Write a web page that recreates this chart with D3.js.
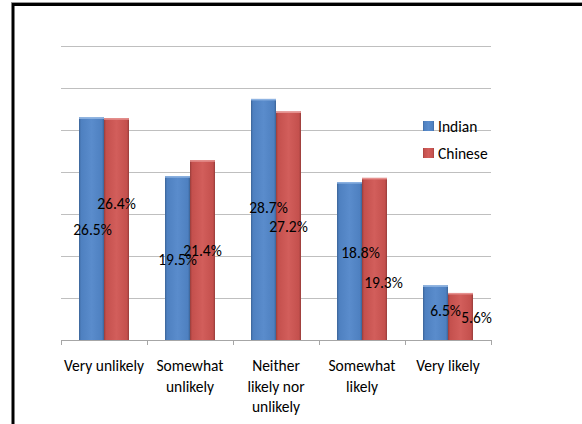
<!DOCTYPE html>
<html>
<head>
<meta charset="utf-8">
<script src="https://cdn.jsdelivr.net/npm/d3@7/dist/d3.min.js"></script>
<style>
  html, body { margin: 0; padding: 0; background: #fff; }
  svg { display: block; }
  text { font-family: Carlito, Lato, "Open Sans", sans-serif; fill: #000; }
</style>
</head>
<body>
<svg id="chart" width="582" height="424"></svg>
<script>
// ---- data ----
const categories = ["Very unlikely", "Somewhat unlikely", "Neither likely nor unlikely", "Somewhat likely", "Very likely"];
const categoryLines = [["Very unlikely"], ["Somewhat", "unlikely"], ["Neither", "likely nor", "unlikely"], ["Somewhat", "likely"], ["Very likely"]];
const seriesNames = ["Indian", "Chinese"];
const indian = [26.5, 19.5, 28.7, 18.8, 6.5];
const chinese = [26.4, 21.4, 27.2, 19.3, 5.6];
const yTicks = [0, 5, 10, 15, 20, 25, 30, 35];

// ---- label placement (layout, as in source: [dx px, y in data units]) ----
const indianLabelPos = [[1, 13.1], [0, 9.6], [5, 15.8], [11, 10.4], [10, 3.5]];
const chineseLabelPos = [[0, 16.2], [0, 10.6], [0, 13.5], [9, 6.9], [16, 2.7]];

(function () {
const svg = d3.select("#chart");
const FS = 15.5;

// border
svg.append("rect").attr("x", 0).attr("y", 0).attr("width", 582).attr("height", 424).attr("fill", "#fff");
svg.append("line").attr("x1", 11).attr("x2", 582).attr("y1", 2.5).attr("y2", 2.5).attr("stroke", "#999").attr("stroke-width", 1);
svg.append("path").attr("d", "M13,424 V4.5 H582").attr("fill", "none").attr("stroke", "#000").attr("stroke-width", 3);

// gradients
const defs = svg.append("defs");
function grad(id, dark, mid, light) {
  const g = defs.append("linearGradient").attr("id", id).attr("x1", 0).attr("x2", 1).attr("y1", 0).attr("y2", 0);
  g.append("stop").attr("offset", "0%").attr("stop-color", dark);
  g.append("stop").attr("offset", "8%").attr("stop-color", mid);
  g.append("stop").attr("offset", "50%").attr("stop-color", light);
  g.append("stop").attr("offset", "92%").attr("stop-color", mid);
  g.append("stop").attr("offset", "100%").attr("stop-color", dark);
}
grad("gIndian", "#3B6396", "#4E80C0", "#5A8CCC");
grad("gChinese", "#963C3A", "#C4504D", "#D25E5B");

const pLeft = 61, pRight = 491, pTop = 46, pBottom = 340;
const x0 = d3.scaleBand().domain(categories).range([pLeft, pRight]).paddingInner(0).paddingOuter(0);
const x1 = d3.scaleBand().domain(seriesNames).range([18, x0.bandwidth() - 18]).padding(0);
const y = d3.scaleLinear().domain([0, 35]).range([pBottom, pTop]);

// gridlines
svg.append("g").selectAll("line").data(yTicks.filter(d => d > 0)).join("line")
  .attr("x1", pLeft).attr("x2", pRight)
  .attr("y1", d => Math.round(y(d)) + 0.5).attr("y2", d => Math.round(y(d)) + 0.5)
  .attr("stroke", "#BFBFBF").attr("stroke-width", 1);

// bars
const rows = categories.map((c, i) => ({ c, i, vals: [{ s: "Indian", v: indian[i] }, { s: "Chinese", v: chinese[i] }] }));
const cg = svg.append("g").selectAll("g").data(rows).join("g")
  .attr("transform", d => `translate(${x0(d.c)},0)`);
cg.selectAll("rect.bar").data(d => d.vals).join("rect").attr("class", "bar")
  .attr("x", d => x1(d.s)).attr("width", x1.bandwidth())
  .attr("y", d => y(d.v)).attr("height", d => y(0) - y(d.v))
  .attr("fill", d => `url(#g${d.s})`);
// top highlight
cg.selectAll("rect.hl").data(d => d.vals).join("rect").attr("class", "hl")
  .attr("x", d => x1(d.s)).attr("width", x1.bandwidth())
  .attr("y", d => y(d.v)).attr("height", 1.5)
  .attr("fill", d => d.s === "Indian" ? "#8DB3E2" : "#E6918F");

// axis
const xAxis = d3.axisBottom(x0).tickSize(0).tickFormat("");
const ax = svg.append("g").attr("transform", `translate(0,${pBottom})`).call(xAxis);
ax.select(".domain").attr("stroke", "#A6A6A6").attr("d", `M${pLeft},0.5H${pRight}`);
const bounds = categories.map(c => x0(c)).concat([pRight]);
svg.append("g").selectAll("line").data(bounds).join("line")
  .attr("x1", d => Math.round(d) + 0.5).attr("x2", d => Math.round(d) + 0.5)
  .attr("y1", pBottom).attr("y2", pBottom + 5)
  .attr("stroke", "#A6A6A6");

// category labels
const cl = svg.append("g").selectAll("text").data(categoryLines).join("text")
  .attr("text-anchor", "middle").attr("font-size", FS)
  .attr("x", (d, i) => x0(categories[i]) + x0.bandwidth() / 2)
  .attr("y", pBottom + 31);
cl.selectAll("tspan").data(d => d).join("tspan")
  .attr("x", function () { return d3.select(this.parentNode).attr("x"); })
  .attr("dy", (d, i) => i === 0 ? 0 : 20.5)
  .text(d => d);

// data labels
const lbl = svg.append("g");
rows.forEach((r, i) => {
  const pos = [indianLabelPos[i], chineseLabelPos[i]];
  r.vals.forEach((d, k) => {
    lbl.append("text")
      .attr("text-anchor", "middle").attr("dominant-baseline", "central").attr("font-size", FS)
      .attr("x", x0(r.c) + x1(d.s) + x1.bandwidth() / 2 + pos[k][0])
      .attr("y", y(pos[k][1]))
      .text(d.v.toFixed(1) + "%");
  });
});

// legend
const lg = svg.append("g").attr("transform", "translate(423,121)");
const li = lg.selectAll("g").data(seriesNames).join("g").attr("transform", (d, i) => `translate(0,${i * 27})`);
li.append("rect").attr("width", 11).attr("height", 10).attr("fill", d => `url(#g${d})`);
li.append("text").attr("x", 15).attr("y", 5).attr("dominant-baseline", "central").attr("font-size", FS).text(d => d);
})();
</script>
</body>
</html>
